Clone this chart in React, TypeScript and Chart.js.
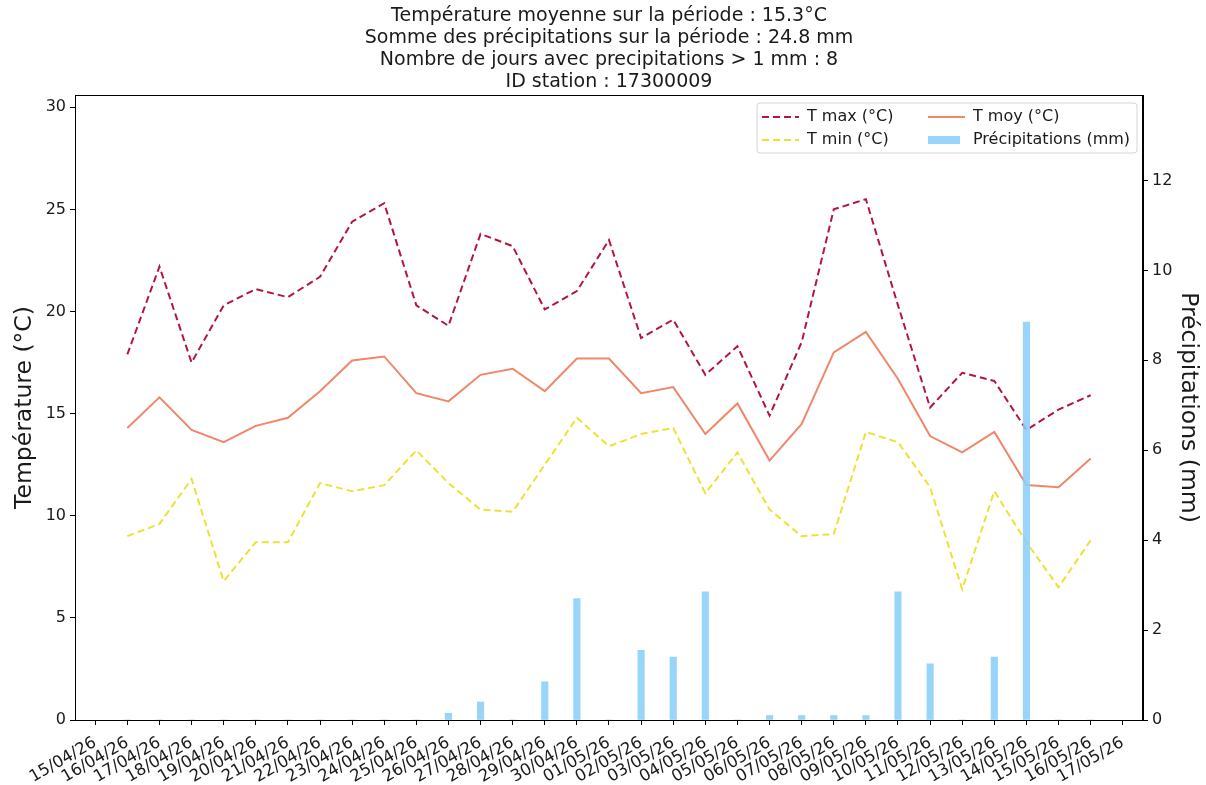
import React, { useEffect, useRef } from 'react';
import { Chart, registerables } from 'chart.js';

Chart.register(...registerables);

const tickLabels = [
  '15/04/26', '16/04/26', '17/04/26', '18/04/26', '19/04/26', '20/04/26', '21/04/26', '22/04/26',
  '23/04/26', '24/04/26', '25/04/26', '26/04/26', '27/04/26', '28/04/26', '29/04/26', '30/04/26',
  '01/05/26', '02/05/26', '03/05/26', '04/05/26', '05/05/26', '06/05/26', '07/05/26', '08/05/26',
  '09/05/26', '10/05/26', '11/05/26', '12/05/26', '13/05/26', '14/05/26', '15/05/26', '16/05/26',
  '17/05/26',
];

// data days: 16/04/26 .. 16/05/26
const dataDates = tickLabels.slice(1, 32);

const tmax = [
  17.9, 22.2, 17.5, 20.3, 21.1, 20.7, 21.7, 24.4, 25.3, 20.3, 19.3, 23.8, 23.2, 20.1, 21.0, 23.5,
  18.7, 19.6, 16.9, 18.3, 14.9, 18.5, 25.0, 25.5, 20.3, 15.3, 17.0, 16.6, 14.2, 15.2, 15.9,
];
const tmoy = [
  14.3, 15.8, 14.2, 13.6, 14.4, 14.8, 16.1, 17.6, 17.8, 16.0, 15.6, 16.9, 17.2, 16.1, 17.7, 17.7,
  16.0, 16.3, 14.0, 15.5, 12.7, 14.5, 18.0, 19.0, 16.7, 13.9, 13.1, 14.1, 11.5, 11.4, 12.8,
];
const tmin = [
  9.0, 9.6, 11.8, 6.8, 8.7, 8.7, 11.6, 11.2, 11.5, 13.2, 11.6, 10.3, 10.2, 12.5, 14.8, 13.4,
  14.0, 14.3, 11.1, 13.1, 10.3, 9.0, 9.1, 14.1, 13.6, 11.4, 6.4, 11.2, 8.7, 6.5, 8.8,
];
const precip = [
  0, 0, 0, 0, 0, 0, 0, 0, 0, 0, 0.15, 0.4, 0, 0.85, 2.7, 0,
  1.55, 1.4, 2.85, 0, 0.1, 0.1, 0.1, 0.1, 2.85, 1.25, 0, 1.4, 8.85, 0, 0,
];

const titleLines = [
  'Température moyenne sur la période : 15.3°C',
  'Somme des précipitations sur la période : 24.8 mm',
  'Nombre de jours avec precipitations > 1 mm : 8',
  'ID station : 17300009',
];

const leftTicks = [0, 5, 10, 15, 20, 25, 30];
const rightTicks = [0, 2, 4, 6, 8, 10, 12];

const FONT = "'DejaVu Sans', sans-serif";
const TEXT = '#1a1a1a';

const toXY = (vals: number[]) =>
  vals.map((v, i) => ({ x: tickLabels.indexOf(dataDates[i]), y: v }));

const framePlugin = {
  id: 'frameTitleLegend',
  afterDatasetsDraw(chart: any) {
    const { ctx, chartArea } = chart;
    ctx.save();
    // frame
    ctx.strokeStyle = '#000';
    ctx.lineWidth = 1;
    ctx.strokeRect(chartArea.left + 0.5, chartArea.top + 0.5, chartArea.right - chartArea.left - 1, chartArea.bottom - chartArea.top);
    // title
    ctx.fillStyle = TEXT;
    ctx.font = `19px ${FONT}`;
    ctx.textAlign = 'center';
    ctx.textBaseline = 'middle';
    const cx = (chartArea.left + chartArea.right) / 2;
    titleLines.forEach((t, i) => ctx.fillText(t, cx, 16 + i * 22));
    // legend
    const bw = 380;
    const bh = 50;
    const bx = chartArea.right - 6 - bw;
    const by = chartArea.top + 8;
    ctx.beginPath();
    const r = 3;
    ctx.moveTo(bx + r, by);
    ctx.arcTo(bx + bw, by, bx + bw, by + bh, r);
    ctx.arcTo(bx + bw, by + bh, bx, by + bh, r);
    ctx.arcTo(bx, by + bh, bx, by, r);
    ctx.arcTo(bx, by, bx + bw, by, r);
    ctx.closePath();
    ctx.fillStyle = 'rgba(255,255,255,0.8)';
    ctx.fill();
    ctx.strokeStyle = '#d6d6d6';
    ctx.stroke();
    const ds = chart.data.datasets;
    // order: col1 rows: T max, T min ; col2 rows: T moy, Précip
    const slots = [
      { d: ds[0], col: 0, row: 0 },
      { d: ds[2], col: 0, row: 1 },
      { d: ds[1], col: 1, row: 0 },
      { d: ds[3], col: 1, row: 1 },
    ];
    ctx.font = `16px ${FONT}`;
    ctx.textAlign = 'left';
    ctx.textBaseline = 'middle';
    slots.forEach(({ d, col, row }) => {
      const hx = bx + 5 + col * 166;
      const hy = by + 14 + row * 23;
      if (d.type === 'bar') {
        ctx.fillStyle = d.backgroundColor;
        ctx.fillRect(hx, hy - 4, 32, 8);
      } else {
        ctx.strokeStyle = d.borderColor;
        ctx.lineWidth = d.borderWidth;
        ctx.setLineDash(d.borderDash || []);
        ctx.beginPath();
        ctx.moveTo(hx, hy);
        ctx.lineTo(hx + 37, hy);
        ctx.stroke();
        ctx.setLineDash([]);
      }
      ctx.fillStyle = TEXT;
      ctx.fillText(d.label, hx + 45, hy);
    });
    ctx.restore();
  },
};

export default function App() {
  const ref = useRef<HTMLCanvasElement | null>(null);
  useEffect(() => {
    if (!ref.current) return;
    const chart = new Chart(ref.current, {
      type: 'line',
      data: {
        datasets: [
          {
            type: 'line',
            label: 'T max (°C)',
            data: toXY(tmax),
            borderColor: '#b5143f',
            borderWidth: 2,
            borderDash: [7, 4],
            pointRadius: 0,
            tension: 0,
            yAxisID: 'y',
            order: 2,
          },
          {
            type: 'line',
            label: 'T moy (°C)',
            data: toXY(tmoy),
            borderColor: '#f0866a',
            borderWidth: 2,
            pointRadius: 0,
            tension: 0,
            yAxisID: 'y',
            order: 2,
          },
          {
            type: 'line',
            label: 'T min (°C)',
            data: toXY(tmin),
            borderColor: '#ece236',
            borderWidth: 2,
            borderDash: [7, 4],
            pointRadius: 0,
            tension: 0,
            yAxisID: 'y',
            order: 2,
          },
          {
            type: 'bar',
            label: 'Précipitations (mm)',
            data: toXY(precip),
            backgroundColor: 'rgba(135,206,250,0.85)',
            borderWidth: 0,
            barThickness: 6.5,
            yAxisID: 'y1',
            order: 1,
          } as any,
        ],
      },
      options: {
        animation: false,
        responsive: true,
        maintainAspectRatio: false,
        layout: { padding: { top: 95, left: 0, right: 0, bottom: 0 } },
        plugins: { legend: { display: false }, tooltip: { enabled: false }, title: { display: false } },
        scales: {
          x: {
            type: 'linear',
            min: -0.63,
            max: 32.63,
            offset: false,
            afterBuildTicks: (s: any) => {
              s.ticks = tickLabels.map((_, i) => ({ value: i }));
            },
            afterFit: (s: any) => {
              s.height = 65;
            },
            ticks: {
              autoSkip: false,
              minRotation: 30,
              maxRotation: 30,
              color: TEXT,
              font: { family: FONT, size: 16.5 },
              padding: 8,
              callback: (v: any) => tickLabels[v as number] ?? '',
            },
            grid: { display: true, offset: false, drawOnChartArea: false, drawTicks: true, tickLength: 5, tickColor: '#000' },
            border: { display: true, color: '#000', width: 1 },
          },
          y: {
            type: 'linear',
            position: 'left',
            min: 0,
            max: 30.6,
            afterBuildTicks: (s: any) => {
              s.ticks = leftTicks.map((v) => ({ value: v }));
            },
            afterFit: (s: any) => {
              s.width = 75;
            },
            ticks: { color: TEXT, font: { family: FONT, size: 16 }, padding: 4 },
            grid: { display: true, drawOnChartArea: false, drawTicks: true, tickLength: 5, tickColor: '#000' },
            border: { display: true, color: '#000', width: 1 },
            title: {
              display: true,
              text: 'Température (°C)',
              color: TEXT,
              font: { family: FONT, size: 23.5 },
              padding: { top: 11, bottom: 0 },
            },
          },
          y1: {
            type: 'linear',
            position: 'right',
            min: 0,
            max: 13.9,
            afterBuildTicks: (s: any) => {
              s.ticks = rightTicks.map((v) => ({ value: v }));
            },
            afterFit: (s: any) => {
              s.width = 63;
            },
            ticks: { color: TEXT, font: { family: FONT, size: 16 }, padding: 4 },
            grid: { display: true, drawOnChartArea: false, drawTicks: true, tickLength: 5, tickColor: '#000' },
            border: { display: true, color: '#000', width: 1 },
            title: {
              display: true,
              text: 'Précipitations (mm)',
              color: TEXT,
              font: { family: FONT, size: 23.5 },
              padding: { top: 4, bottom: 0 },
            },
          },
        },
      },
      plugins: [framePlugin],
    } as any);
    return () => chart.destroy();
  }, []);
  return (
    <div style={{ position: 'absolute', left: 0, top: 0, width: 1206, height: 785 }}>
      <canvas ref={ref} />
    </div>
  );
}
